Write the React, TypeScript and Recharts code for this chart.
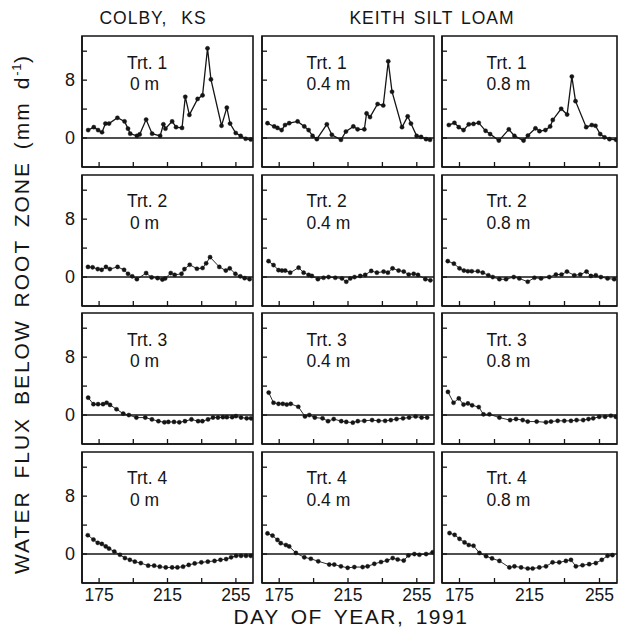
import { LineChart, Line, XAxis, YAxis, ReferenceLine, ReferenceArea } from "recharts";

const INK = "#151515";
const FONT = "'Liberation Sans', Arial, Helvetica, sans-serif";

const treatments = ["Trt. 1", "Trt. 2", "Trt. 3", "Trt. 4"];
const depths = ["0 m", "0.4 m", "0.8 m"];
const dayTicks = [175, 195, 215, 235, 255];
const dayLabels = [175, 215, 255];
const fluxTicks = [0, 4, 8, 12];
const fluxLabels = [0, 8];
const DAY_DOMAIN: [number, number] = [165, 265];
const FLUX_DOMAIN: [number, number] = [-4, 14.1];

// [day of year, flux mm/d]
const t1At0: [number, number][] = [
  [168.6, 1.1], [171.9, 1.5], [174.4, 1.1], [176.7, 0.8], [178.7, 2.0], [180.8, 2.0], [185.7, 2.8],
  [189.9, 2.3], [191.9, 1.3], [193.2, 0.6], [197.1, 0.3], [198.7, 0.5], [202.5, 2.55], [206, 0.6],
  [210.7, 0.3], [212.6, 1.9], [213.8, 1.3], [217.7, 2.3], [220, 1.5], [223.5, 1.4], [225.4, 5.7],
  [227.8, 3.2], [232.6, 5.4], [235.5, 5.9], [238.4, 12.4], [240.4, 8.1], [246.6, 1.7], [249.7, 4.2],
  [251.6, 2.0], [254.9, 0.7], [257.8, 0.3], [260.7, -0.1], [263.7, -0.2],
];
const t1At04: [number, number][] = [
  [168.2, 2.05], [172.1, 1.6], [174, 1.4], [176.4, 1.1], [178.4, 1.8], [180.8, 2.05], [185.7, 2.3],
  [189.6, 1.6], [192.1, 1.1], [194.4, 0.3], [196.9, -0.15], [202.7, 1.9], [205.6, 0.45], [210.9, -0.25],
  [213.8, 0.9], [218.1, 1.6], [220.6, 1.2], [224.5, 1.2], [225.8, 3.4], [227.8, 2.9], [232.2, 4.7],
  [235.5, 4.5], [238.4, 10.6], [240.6, 6.4], [246.4, 1.5], [249.7, 3.0], [251.6, 2.0], [254.9, 0.3],
  [257.5, 0.15], [260.4, -0.15], [262.7, -0.25],
];
const t1At08: [number, number][] = [
  [168.9, 1.8], [172.1, 2.1], [174.6, 1.5], [177.3, 1.1], [180.3, 1.9], [183, 1.95], [186, 2.1],
  [189.9, 1.0], [192.5, 0.55], [197.5, -0.35], [203.2, 1.2], [206.4, 0.3], [211.6, -0.35], [214.1, 0.35],
  [218.4, 1.35], [220.7, 0.95], [224.1, 1.1], [226.8, 1.6], [228.3, 2.5], [233.1, 4.05], [236.5, 3.25],
  [239.2, 8.5], [241.3, 5.1], [247.4, 1.5], [250.6, 1.8], [252.7, 1.7], [255.4, 0.55], [257.9, 0.1],
  [260.7, -0.15], [264.5, -0.25],
];
const t2At0: [number, number][] = [
  [168.5, 1.4], [171.2, 1.35], [174.2, 1.1], [176.5, 1.0], [179, 1.4], [181.3, 1.1], [185.8, 1.4],
  [189.6, 1.0], [191.9, 0.45], [194.4, 0.1], [197.1, -0.3], [202.5, 0.55], [205.7, -0.05], [209.2, -0.15],
  [212, -0.35], [213.6, -0.2], [216.9, 0.55], [219.2, 0.3], [223.2, 0.45], [224.9, 1.1], [228, 1.7],
  [232.2, 1.15], [235.5, 1.25], [237.6, 1.9], [239.9, 2.75], [245.3, 1.4], [249.1, 0.9], [251.4, 1.2],
  [254.7, 0.45], [257.6, 0.1], [260.1, -0.15], [263, -0.3],
];
const t2At04: [number, number][] = [
  [168.8, 2.2], [171.7, 1.65], [174.6, 0.95], [176.6, 0.9], [178.5, 0.9], [181.4, 0.6], [186.3, 1.3],
  [189.2, 0.6], [192.1, 0.3], [194, 0.15], [197.5, -0.3], [200.8, -0.1], [203.7, 0], [207.6, -0.1],
  [211.5, -0.2], [214, -0.65], [216.3, -0.2], [218.8, 0], [222.1, 0.15], [225, 0.3], [228.5, 0.85],
  [231.8, 0.6], [235.7, 0.75], [238.2, 0.6], [240.9, 1.2], [244.4, 0.9], [247.4, 0.75], [250.3, 0.35],
  [253.2, 0.45], [255.7, 0.3], [260, -0.3], [262.9, -0.45],
];
const t2At08: [number, number][] = [
  [168.3, 2.2], [171.8, 1.85], [175, 1.2], [177.5, 0.9], [179.8, 0.8], [182, 0.8], [185.5, 0.8],
  [188.3, 0.6], [191.5, 0.25], [194, 0], [197.8, -0.3], [201.6, -0.3], [206, 0], [209.2, -0.2],
  [214, -0.65], [217.8, -0.1], [221.6, -0.2], [226.3, 0], [230.1, 0.35], [233.3, 0.35], [236.4, 0.75],
  [240.6, 0.25], [244, 0.35], [247.6, 0.75], [250.1, 0.15], [252.9, 0.25], [255.8, 0], [259.6, -0.2],
  [263.4, -0.3],
];
const t3At0: [number, number][] = [
  [168.6, 2.4], [171.7, 1.5], [174.4, 1.5], [177.3, 1.5], [179.4, 1.7], [181.4, 1.4], [185.2, 0.8],
  [189.1, 0.2], [192.4, 0], [196.8, -0.35], [202, -0.35], [205.9, -0.6], [209.7, -0.85], [213.2, -1.0],
  [215.5, -0.95], [218.8, -0.95], [221.9, -1.0], [225.2, -0.85], [229, -0.6], [232.9, -0.85], [235.4, -0.85],
  [238.7, -0.6], [241.6, -0.35], [244.5, -0.35], [247.4, -0.3], [249.7, -0.3], [252.8, -0.3], [255, -0.15],
  [258, -0.35], [261.3, -0.45], [263.8, -0.45],
];
const t3At04: [number, number][] = [
  [168.9, 3.1], [171.7, 1.7], [174.6, 1.55], [177.1, 1.55], [179.4, 1.45], [181.7, 1.55], [186.1, 1.15],
  [190, -0.2], [192.5, 0], [195.7, -0.35], [200.2, -0.45], [203.4, -0.85], [206.7, -0.55], [211.1, -0.85],
  [214, -0.95], [217.8, -1.05], [220.7, -0.85], [224.5, -0.8], [229, -0.7], [232.8, -0.8], [236.6, -0.8],
  [239.9, -0.7], [243.2, -0.55], [247, -0.45], [250.5, -0.35], [254.3, -0.2], [257.8, -0.35], [261, -0.35],
];
const t3At08: [number, number][] = [
  [168.4, 3.2], [171.6, 1.7], [174.6, 2.3], [177.3, 1.45], [179.8, 1.6], [182.2, 1.35], [186, 1.1],
  [188.7, 0.1], [192.1, 0.1], [197.8, -0.35], [203.9, -0.7], [207.3, -0.55], [211.1, -0.7], [214, -0.9],
  [219.1, -0.9], [224.4, -1.0], [227.3, -0.9], [231.1, -0.8], [234.9, -0.8], [238.7, -0.8], [241.9, -0.7],
  [245.7, -0.7], [248.7, -0.55], [251.4, -0.45], [254.8, -0.25], [258.2, -0.25], [261.5, -0.1], [264.3, -0.25],
];
const t4At0: [number, number][] = [
  [168.4, 2.6], [171.7, 2.0], [174.2, 1.55], [176.6, 1.4], [178.9, 1.05], [180.8, 0.75], [183.9, 0.35],
  [187.2, -0.1], [190.1, -0.55], [193, -0.8], [195.9, -1.05], [199.4, -1.25], [203.7, -1.6], [207.2, -1.6],
  [210.5, -1.75], [214, -1.85], [217.7, -1.85], [220.8, -1.85], [224.1, -1.75], [227.4, -1.5], [230.9, -1.3],
  [234.8, -1.15], [238.6, -1.05], [242.5, -0.95], [246, -0.8], [249.3, -0.7], [252.2, -0.45], [255.1, -0.25],
  [258, -0.25], [260.9, -0.25], [263.7, -0.25],
];
const t4At04: [number, number][] = [
  [168.2, 2.85], [171.1, 2.55], [174, 1.95], [175.9, 1.5], [178.9, 1.25], [180.8, 1.05], [184.7, 0.15],
  [189.6, -0.45], [193.4, -0.65], [197.7, -1.0], [204.1, -1.45], [207, -1.45], [210.9, -1.7], [214.8, -1.9],
  [218.7, -1.8], [223.5, -1.8], [226.4, -1.7], [230.3, -1.35], [234.2, -1.1], [237.7, -0.9], [241, -0.55],
  [243.9, -0.75], [247.4, -0.9], [250.1, -0.2], [253.6, 0], [256.5, -0.1], [260.4, 0], [264.2, 0.25],
];
const t4At08: [number, number][] = [
  [169.3, 2.9], [172.2, 2.65], [175, 2.1], [177.9, 1.6], [180.3, 1.25], [183, 1.15], [186.4, 0.15],
  [190.2, -0.3], [193.6, -0.6], [197.8, -0.95], [203.5, -1.85], [206.4, -1.7], [210.2, -1.85], [214, -2.0],
  [216.8, -2.0], [220.6, -1.85], [224.4, -1.7], [228.2, -1.15], [232, -1.15], [235.8, -0.95], [238.7, -0.8],
  [241.5, -1.7], [245.3, -1.55], [249.1, -1.4], [252.9, -1.25], [256.3, -0.8], [259.6, -0.25], [262.4, -0.15],
];

const panels = [
  [t1At0, t1At04, t1At08],
  [t2At0, t2At04, t2At08],
  [t3At0, t3At04, t3At08],
  [t4At0, t4At04, t4At08],
];

const colLeft = [82, 261.5, 441.5];
const colWidth = [171, 172, 175];
const rowTop = [36, 174.7, 313, 451.7];
const PANEL_H = 131;
const GUT_L = 30;
const GUT_B = 26;

const DayTick = (p: any) => {
  const { x, y, payload, labelled } = p;
  return (
    <g>
      <line x1={x} y1={y} x2={x} y2={y - 5} stroke={INK} strokeWidth={1.3} />
      {labelled && dayLabels.includes(payload.value) && (
        <text x={x} y={y + 17.7} textAnchor="middle" fill={INK} fontSize={17.5} fontFamily={FONT}>
          {payload.value}
        </text>
      )}
    </g>
  );
};

const FluxTick = (p: any) => {
  const { x, y, payload, labelled } = p;
  return (
    <g>
      <line x1={x} y1={y} x2={x + 5} y2={y} stroke={INK} strokeWidth={1.3} />
      {labelled && fluxLabels.includes(payload.value) && (
        <text x={x - 7} y={y} textAnchor="end" dominantBaseline="central" fill={INK} fontSize={18} fontFamily={FONT}>
          {payload.value}
        </text>
      )}
    </g>
  );
};

const frame = { stroke: INK, strokeWidth: 1.6 };

function Panel({ row, col }: { row: number; col: number }) {
  const w = colWidth[col];
  const data = panels[row][col].map(([day, flux]) => ({ day, flux }));
  return (
    <>
      <div style={{ position: "absolute", left: colLeft[col] - GUT_L, top: rowTop[row] - 1 }}>
        <LineChart
          width={GUT_L + w + 1}
          height={1 + PANEL_H + GUT_B}
          data={data}
          margin={{ top: 1, right: 1, bottom: 0, left: 0 }}
        >
          <XAxis
            dataKey="day"
            type="number"
            domain={DAY_DOMAIN}
            ticks={dayTicks}
            interval={0}
            height={GUT_B}
            tickSize={0}
            tickMargin={0}
            tickLine={false}
            axisLine={frame}
            allowDataOverflow
            tick={(t: any) => <DayTick {...t} labelled={row === 3} />}
          />
          <YAxis
            type="number"
            domain={FLUX_DOMAIN}
            ticks={fluxTicks}
            interval={0}
            width={GUT_L}
            tickSize={0}
            tickMargin={0}
            tickLine={false}
            axisLine={frame}
            allowDataOverflow
            tick={(t: any) => <FluxTick {...t} labelled={col === 0} />}
          />
          <ReferenceArea
            x1={DAY_DOMAIN[0]}
            x2={DAY_DOMAIN[1]}
            y1={FLUX_DOMAIN[0]}
            y2={FLUX_DOMAIN[1]}
            fill="none"
            stroke={INK}
            strokeWidth={1.6}
            ifOverflow="visible"
          />
          <ReferenceLine y={0} stroke={INK} strokeWidth={1.4} />
          <Line
            dataKey="flux"
            type="linear"
            stroke={INK}
            strokeWidth={row === 0 ? 1.3 : 0.9}
            dot={{ r: 2.1, fill: INK, stroke: INK, strokeWidth: 0.4 }}
            isAnimationActive={false}
          />
        </LineChart>
      </div>
      <div
        style={{
          position: "absolute",
          left: colLeft[col] + 45,
          top: rowTop[row] + 16.5,
          fontFamily: FONT,
          fontSize: 17.5,
          lineHeight: "21.4px",
          color: INK,
          whiteSpace: "nowrap",
        }}
      >
        <div>{treatments[row]}</div>
        <div style={{ paddingLeft: col === 0 ? 3 : 0 }}>{depths[col]}</div>
      </div>
    </>
  );
}

export default function App() {
  const cells = [];
  for (let r = 0; r < 4; r++) for (let c = 0; c < 3; c++) cells.push(<Panel key={`${r}-${c}`} row={r} col={c} />);
  const head = { position: "absolute" as const, top: 8, fontFamily: FONT, fontSize: 17.5, letterSpacing: 1, color: INK, whiteSpace: "nowrap" as const, transform: "translateX(-50%)" };
  return (
    <div style={{ position: "absolute", left: 0, top: 0, width: 621, height: 633, background: "#fff", overflow: "hidden" }}>
      <div style={{ ...head, left: 153, wordSpacing: 8 }}>COLBY, KS</div>
      <div style={{ ...head, left: 432, wordSpacing: 2 }}>KEITH SILT LOAM</div>
      {cells}
      <div
        style={{
          position: "absolute",
          left: 351,
          top: 605,
          transform: "translateX(-50%)",
          fontFamily: FONT,
          fontSize: 21,
          letterSpacing: 1.5,
          wordSpacing: 4,
          color: INK,
          whiteSpace: "nowrap",
        }}
      >
        DAY OF YEAR, 1991
      </div>
      <div
        style={{
          position: "absolute",
          left: 19,
          top: 314,
          transform: "translate(-50%, -50%) rotate(-90deg)",
          fontFamily: FONT,
          fontSize: 21,
          letterSpacing: 2,
          wordSpacing: 4,
          color: INK,
          whiteSpace: "nowrap",
          lineHeight: "24px",
        }}
      >
        WATER FLUX BELOW ROOT ZONE (mm d<sup style={{ fontSize: 13, letterSpacing: 0.5 }}>-1</sup>)
      </div>
    </div>
  );
}
